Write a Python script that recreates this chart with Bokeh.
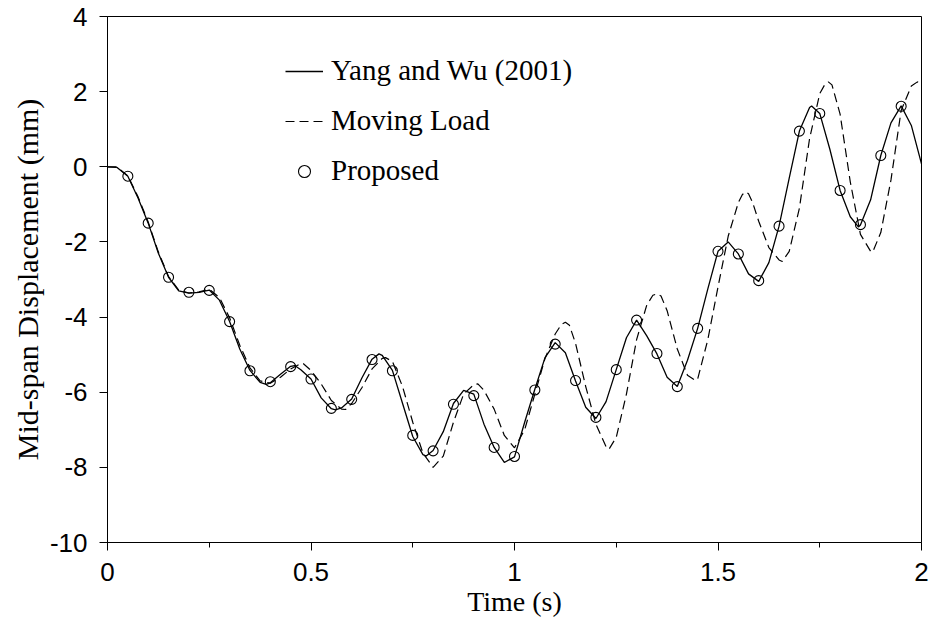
from bokeh.plotting import figure
from bokeh.models import Range1d, FixedTicker, Legend, LegendItem, ColumnDataSource
from bokeh.embed import file_html
from bokeh.resources import INLINE

# ---- data ----
t_yw = [0, 0.02, 0.025, 0.05, 0.075, 0.1, 0.125, 0.15, 0.175, 0.2,
        0.225, 0.25, 0.275, 0.3, 0.325, 0.35, 0.375, 0.39, 0.4, 0.425,
        0.45, 0.46, 0.475, 0.5, 0.525, 0.55, 0.56, 0.575, 0.6, 0.625,
        0.65, 0.667, 0.675, 0.7, 0.725, 0.75, 0.775, 0.783, 0.8, 0.825,
        0.85, 0.875, 0.9, 0.925, 0.95, 0.975, 1.0, 1.025, 1.05, 1.075,
        1.1, 1.125, 1.15, 1.175, 1.2, 1.225, 1.25, 1.275, 1.3, 1.325,
        1.35, 1.375, 1.4, 1.425, 1.45, 1.475, 1.5, 1.525, 1.55, 1.575,
        1.6, 1.625, 1.65, 1.675, 1.7, 1.725, 1.73, 1.75, 1.775, 1.8,
        1.825, 1.845, 1.85, 1.875, 1.9, 1.925, 1.95, 1.975, 2.0]
y_yw = [0, 0, -0.03, -0.25, -0.83, -1.5, -2.3, -2.94, -3.3, -3.36,
        -3.34, -3.28, -3.55, -4.12, -4.85, -5.42, -5.74, -5.79, -5.75, -5.52,
        -5.31, -5.29, -5.4, -5.65, -6.15, -6.44, -6.47, -6.42, -6.18, -5.62,
        -5.12, -4.98, -5.02, -5.42, -6.3, -7.18, -7.66, -7.7, -7.55, -7.05,
        -6.3, -5.95, -6.05, -6.85, -7.47, -7.87, -7.72, -6.8, -5.92, -5.08,
        -4.68, -4.95, -5.7, -6.4, -6.7, -6.25, -5.4, -4.55, -4.08, -4.5,
        -4.98, -5.6, -5.85, -5.15, -4.3, -3.25, -2.25, -2.0, -2.32, -2.85,
        -3.05, -2.55, -1.58, -0.3, 0.95, 1.58, 1.62, 1.42, 0.46, -0.63,
        -1.33, -1.6, -1.55, -0.88, 0.3, 1.17, 1.62, 1.1, 0.08]

t_ml = [0, 0.025, 0.05, 0.075, 0.1, 0.125, 0.15, 0.175, 0.2, 0.225,
        0.25, 0.275, 0.3, 0.325, 0.35, 0.375, 0.4, 0.425, 0.45, 0.475,
        0.48, 0.5, 0.525, 0.55, 0.575, 0.585, 0.6, 0.625, 0.65, 0.675,
        0.683, 0.7, 0.725, 0.75, 0.775, 0.8, 0.825, 0.85, 0.875, 0.9,
        0.91, 0.925, 0.95, 0.975, 1.0, 1.025, 1.05, 1.075, 1.1, 1.115,
        1.125, 1.135, 1.15, 1.175, 1.2, 1.225, 1.232, 1.25, 1.275, 1.3,
        1.325, 1.34, 1.35, 1.36, 1.375, 1.4, 1.425, 1.445, 1.45, 1.475,
        1.5, 1.525, 1.55, 1.56, 1.568, 1.575, 1.585, 1.6, 1.625, 1.65,
        1.658, 1.675, 1.7, 1.725, 1.75, 1.763, 1.771, 1.78, 1.8, 1.825,
        1.85, 1.875, 1.88, 1.9, 1.925, 1.95, 1.975, 1.99, 2.0]
y_ml = [0, -0.02, -0.24, -0.8, -1.47, -2.27, -2.92, -3.28, -3.36, -3.33,
        -3.26, -3.48, -4.02, -4.75, -5.35, -5.7, -5.76, -5.6, -5.38, -5.24,
        -5.23, -5.42, -5.78, -6.22, -6.45, -6.46, -6.3, -5.88, -5.38, -5.1,
        -5.08, -5.18, -5.85, -6.8, -7.62, -8.0, -7.7, -6.8, -6.05, -5.8,
        -5.78, -5.95, -6.45, -7.15, -7.48, -7.0, -6.05, -5.1, -4.45, -4.2,
        -4.14, -4.22, -4.7, -5.85, -6.85, -7.45, -7.52, -7.2, -6.05, -4.6,
        -3.68, -3.42, -3.38, -3.44, -3.83, -4.85, -5.55, -5.69, -5.65, -4.6,
        -3.2, -1.85, -0.95, -0.74, -0.67, -0.72, -0.95, -1.45, -2.15, -2.48,
        -2.52, -2.25, -1.1, 0.75, 1.95, 2.2, 2.26, 2.18, 1.4, -0.4,
        -1.8, -2.25, -2.27, -1.75, -0.35, 1.5, 2.15, 2.26, 2.2]

t_prop = [0.05, 0.10, 0.15, 0.20, 0.25, 0.30, 0.35, 0.40, 0.45, 0.50,
          0.55, 0.60, 0.65, 0.70, 0.75, 0.80, 0.85, 0.90, 0.95, 1.00,
          1.05, 1.10, 1.15, 1.20, 1.25, 1.30, 1.35, 1.40, 1.45, 1.50,
          1.55, 1.60, 1.65, 1.70, 1.75, 1.80, 1.85, 1.90, 1.95]
y_prop = [-0.25, -1.50, -2.94, -3.34, -3.29, -4.12, -5.43, -5.72, -5.32, -5.65,
          -6.43, -6.19, -5.13, -5.43, -7.15, -7.56, -6.32, -6.09, -7.47, -7.71,
          -5.94, -4.72, -5.69, -6.67, -5.40, -4.08, -4.97, -5.85, -4.30, -2.25,
          -2.32, -3.03, -1.58, 0.95, 1.42, -0.63, -1.54, 0.30, 1.61]

x_ticks = [0, 0.5, 1, 1.5, 2]
x_tick_labels = ["0", "0.5", "1", "1.5", "2"]
x_minor = [0.25, 0.75, 1.25, 1.75]
y_ticks = [-10, -8, -6, -4, -2, 0, 2, 4]
y_tick_labels = ["-10", "-8", "-6", "-4", "-2", "0", "2", "4"]

legend_labels = ["Yang and Wu (2001)", "Moving Load", "Proposed"]

# ---- figure ----
p = figure(width=934, height=633, output_backend="svg", toolbar_location=None,
           x_range=Range1d(0, 2), y_range=Range1d(-10, 4),
           min_border_left=107, min_border_right=13,
           min_border_top=16, min_border_bottom=91)
p.background_fill_color = "white"
p.border_fill_color = "white"
p.outline_line_color = "black"
p.outline_line_width = 1
p.xgrid.visible = False
p.ygrid.visible = False

src_yw = ColumnDataSource(dict(t=t_yw, y=y_yw))
src_ml = ColumnDataSource(dict(t=t_ml, y=y_ml))
src_pr = ColumnDataSource(dict(t=t_prop, y=y_prop))

r_yw = p.line("t", "y", source=src_yw, line_color="black", line_width=1.3)
r_ml = p.line("t", "y", source=src_ml, line_color="black", line_width=1.2,
              line_dash="9 5")
r_pr = p.scatter("t", "y", source=src_pr, marker="circle", size=10,
                 line_color="black", line_width=1.1, fill_alpha=0)

# axes
xa = p.xaxis[0]
xa.ticker = FixedTicker(ticks=x_ticks, minor_ticks=x_minor)
xa.major_label_overrides = {v: s for v, s in zip(x_ticks, x_tick_labels)}
ya = p.yaxis[0]
ya.ticker = FixedTicker(ticks=y_ticks, minor_ticks=[])
ya.major_label_overrides = {v: s for v, s in zip(y_ticks, y_tick_labels)}

for ax in (xa, ya):
    ax.axis_line_color = "black"
    ax.axis_line_width = 1
    ax.major_tick_line_color = "black"
    ax.minor_tick_line_color = "black"
    ax.major_tick_in = 0
    ax.major_tick_out = 8
    ax.minor_tick_in = 0
    ax.major_label_text_font = "Liberation Sans"
    ax.major_label_text_font_size = "26px"
    ax.major_label_text_color = "black"
    ax.axis_label_text_font = "Liberation Serif"
    ax.axis_label_text_font_style = "normal"
    ax.axis_label_text_color = "black"

xa.axis_label_text_font_size = "28px"
ya.axis_label_text_font_size = "30px"
xa.minor_tick_out = 5
ya.minor_tick_out = 0
xa.axis_label = "Time (s)"
ya.axis_label = "Mid-span Displacement (mm)"
xa.major_label_standoff = 12
ya.major_label_standoff = 12
xa.axis_label_standoff = 2
ya.axis_label_standoff = 3

legend = Legend(items=[LegendItem(label=legend_labels[0], renderers=[r_yw]),
                       LegendItem(label=legend_labels[1], renderers=[r_ml]),
                       LegendItem(label=legend_labels[2], renderers=[r_pr])],
                location=(178, 355))
legend.glyph_width = 38
legend.glyph_height = 30
legend.label_height = 30
legend.spacing = 17
legend.label_standoff = 8
legend.padding = 0
legend.margin = 0
legend.border_line_alpha = 0
legend.background_fill_alpha = 0
legend.label_text_font = "Liberation Serif"
legend.label_text_font_size = "29px"
legend.label_text_color = "black"
p.add_layout(legend)

open("out.html", "w").write(file_html(p, INLINE))
